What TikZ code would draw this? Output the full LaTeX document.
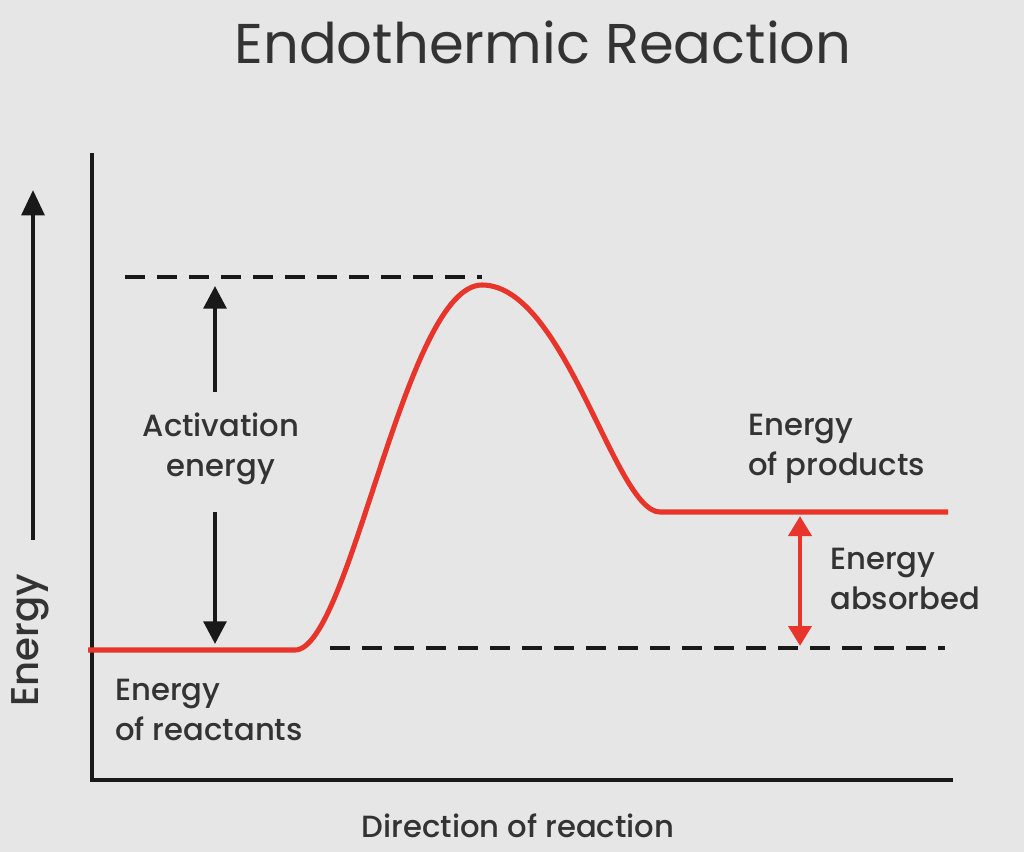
\documentclass[tikz,border=0pt]{standalone}
\usepackage{fontspec}
\setmainfont{Poppins}[UprightFont=* Medium]
\newfontfamily\titlefont{Poppins}
\usetikzlibrary{arrows.meta}
\definecolor{bg}{HTML}{E6E6E6}
\definecolor{txt}{HTML}{333333}
\definecolor{curvered}{HTML}{E8352B}
\begin{document}
\begin{tikzpicture}[x=0.75pt,y=-0.75pt,
  axis/.style={line width=3pt,black!90},
  dashln/.style={line width=3.6pt,black!90,dash pattern=on 15pt off 9pt},
  redline/.style={line width=3.8pt,curvered},
  lbl/.style={text=txt,font=\fontsize{23}{30}\selectfont,align=left,inner sep=0pt},
  blkarrow/.style={line width=3pt,black!90,-{Triangle[width=17pt,length=17pt]}},
  redarrow/.style={line width=3.6pt,curvered,{Triangle[width=17pt,length=15pt]}-{Triangle[width=17pt,length=15pt]}}]
\fill[bg] (0,0) rectangle (1024,852);
\useasboundingbox (0,0) rectangle (1024,852);
% title
\node[text=txt,font=\titlefont\fontsize{42}{48}\selectfont,inner sep=0pt] (title) at (543,42) {Endothermic Reaction};
% axes
\coordinate (ytop) at (92,153);
\coordinate (origin) at (92,780);
\coordinate (xend) at (953,780);
\draw[axis] (ytop) -- (origin) -- (xend);
% energy arrow
\coordinate (ea0) at (33,540);
\coordinate (ea1) at (33,190);
\draw[line width=3pt,black!90,-{Triangle[width=17pt,length=19pt]}] (ea0) -- (ea1);
\node[lbl,rotate=90,font=\fontsize{29}{30}\selectfont] (energy) at (30,640) {Energy};
\node[lbl] (dir) at (518,826) {Direction of reaction};
% dashed lines
\coordinate (d1a) at (125,277);
\coordinate (d1b) at (482,277);
\coordinate (d2a) at (330,648);
\coordinate (d2b) at (945,648);
\draw[dashln] (d1a) -- (d1b);
\draw[dashln] (d2a) -- (d2b);
% curve
\coordinate (c0) at (88,650);
\coordinate (c1) at (295,650);
\coordinate (peak) at (482,285);
\coordinate (c2) at (660,512);
\coordinate (c3) at (948,512);
\draw[redline] (c0) -- (c1) .. controls (350,650) and (405,285) .. (peak)
  .. controls (565,285) and (615,512) .. (c2) -- (c3);
% activation energy
\node[lbl,align=center] (act) at (221,449) {Activation\\energy};
\coordinate (a1) at (215,392);
\coordinate (a2) at (215,286);
\coordinate (a3) at (215,512);
\coordinate (a4) at (215,644);
\draw[blkarrow] (a1) -- (a2);
\draw[blkarrow] (a3) -- (a4);
% energy absorbed
\coordinate (r1) at (800,516);
\coordinate (r2) at (800,646);
\draw[redarrow] (r1) -- (r2);
\node[lbl,anchor=west] (abs) at (830,579) {Energy\\absorbed};
\node[lbl,anchor=west] (prod) at (748,449) {Energy\\of products};
\node[lbl,anchor=west] (reac) at (115,710) {Energy\\of reactants};
\end{tikzpicture}
\end{document}
